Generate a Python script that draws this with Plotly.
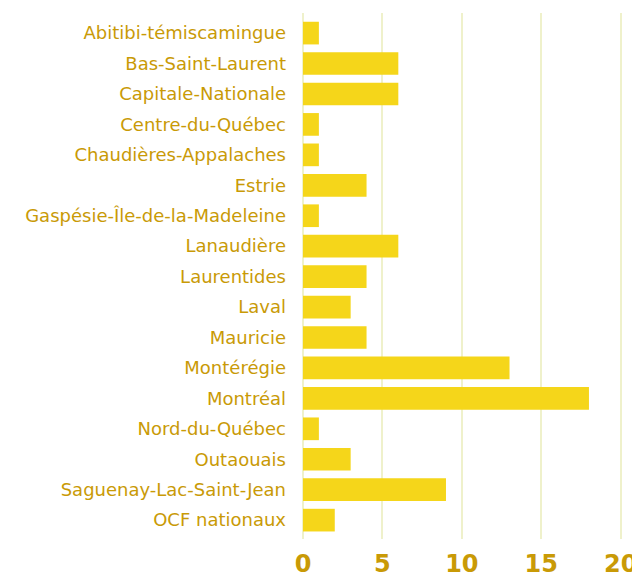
import plotly.graph_objects as go

categories = ["Abitibi-témiscamingue", "Bas-Saint-Laurent", "Capitale-Nationale",
              "Centre-du-Québec", "Chaudières-Appalaches", "Estrie",
              "Gaspésie-Île-de-la-Madeleine", "Lanaudière", "Laurentides", "Laval",
              "Mauricie", "Montérégie", "Montréal", "Nord-du-Québec", "Outaouais",
              "Saguenay-Lac-Saint-Jean", "OCF nationaux"]
values = [1, 6, 6, 1, 1, 4, 1, 6, 4, 3, 4, 13, 18, 1, 3, 9, 2]
x_ticks = [0, 5, 10, 15, 20]

bar_color = "#F5D61A"
label_color = "#C99A06"
grid_color = "#EFF1CB"

fig = go.Figure(go.Bar(x=values, y=categories, orientation="h",
                       marker=dict(color=bar_color, line=dict(width=0))))
fig.update_layout(
    width=632, height=570,
    margin=dict(l=295, r=18, t=5, b=39),
    plot_bgcolor="white", paper_bgcolor="white",
    bargap=0.255,
    showlegend=False,
    font=dict(family="DejaVu Sans", color=label_color),
)
fig.update_yaxes(range=[16.62, -0.66], showgrid=False, automargin=False,
                 tickfont=dict(size=18, family="DejaVu Sans", color=label_color),
                 ticks="", ticklabelstandoff=16, showline=False)
fig.update_xaxes(range=[0, 20.08], tickvals=x_ticks, showgrid=True, gridcolor=grid_color,
                 gridwidth=2, zeroline=True, zerolinecolor=grid_color, zerolinewidth=2,
                 automargin=False, showline=False, ticks="", ticklabelstandoff=8,
                 tickfont=dict(size=24, family="DejaVu Sans", color=label_color, weight="bold"))
fig.write_html("out.html")
